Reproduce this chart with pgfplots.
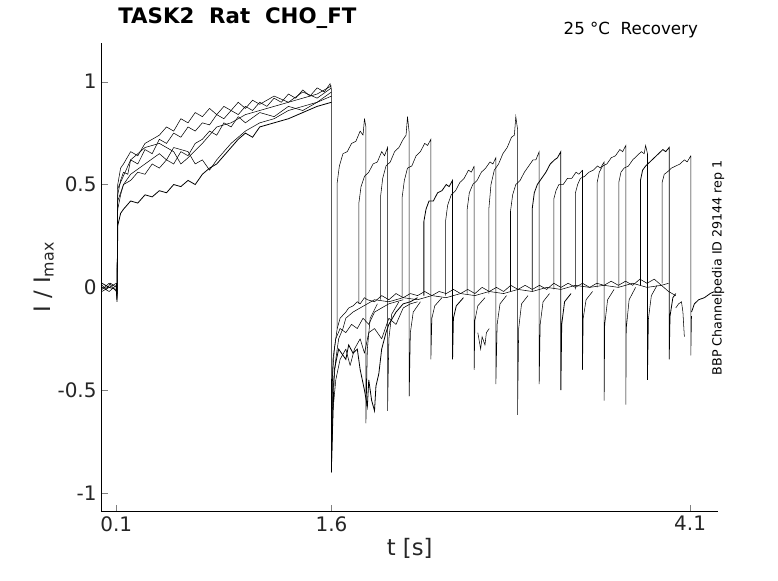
\documentclass[border=0pt]{standalone}
\usepackage{fontspec}
\setmainfont{DejaVu Sans}
\usepackage{pgfplots}
\pgfplotsset{compat=1.18}
\begin{document}
\begin{tikzpicture}
\begin{axis}[
  scale only axis, width=463pt, height=352pt,
  xmin=-0.005, xmax=4.295, ymin=-1.09, ymax=1.19,
  axis x line*=bottom, axis y line*=left,
  x axis line style={-}, y axis line style={-},
  tick align=inside, major tick length=5pt,
  xtick={0.1,1.6,4.1}, xticklabels={0.1,1.6,4.1},
  ytick={-1,-0.5,0,0.5,1}, yticklabels={-1,-0.5,0,0.5,1},
  /pgf/number format/assume math mode=true,
  tick label style={font=\fontsize{15}{18}\selectfont, text=black!85},
  xlabel={t [s]}, ylabel={I / I\textsubscript{max}},
  label style={font=\fontsize{17}{20}\selectfont, text=black!85},
  xlabel style={yshift=2pt}, ylabel style={yshift=-4pt},
  clip=false,
  cycle list={{black, solid, mark=none, line width=0.6pt, line join=round}},
]
% first pulse traces
\addplot coordinates {(0,0.01)(0.03,-0.01)(0.06,0.02)(0.1,0)(0.105,-0.06)(0.11,0.45)(0.13,0.52)(0.15,0.56)(0.18,0.55)(0.2,0.62)(0.25,0.6)(0.3,0.67)(0.35,0.65)(0.4,0.72)(0.45,0.7)(0.5,0.75)(0.55,0.73)(0.6,0.78)(0.65,0.76)(0.7,0.8)(0.75,0.79)(0.8,0.84)(0.85,0.82)(0.9,0.86)(0.95,0.84)(1.0,0.88)(1.05,0.86)(1.1,0.9)(1.15,0.88)(1.2,0.92)(1.25,0.9)(1.3,0.94)(1.35,0.92)(1.4,0.96)(1.45,0.93)(1.5,0.97)(1.55,0.95)(1.59,0.99)(1.6,0.96)};
\addplot coordinates {(0,-0.01)(0.05,0.02)(0.1,-0.02)(0.105,-0.04)(0.11,0.5)(0.13,0.58)(0.15,0.6)(0.2,0.66)(0.25,0.64)(0.3,0.7)(0.35,0.72)(0.4,0.74)(0.45,0.78)(0.5,0.76)(0.55,0.82)(0.6,0.8)(0.65,0.85)(0.7,0.83)(0.75,0.87)(0.8,0.84)(0.85,0.88)(0.9,0.86)(0.95,0.9)(1.0,0.87)(1.05,0.91)(1.1,0.89)(1.2,0.93)(1.3,0.9)(1.4,0.95)(1.5,0.92)(1.6,0.97)};
\addplot coordinates {(0,0)(0.05,-0.02)(0.1,0.01)(0.105,-0.05)(0.11,0.38)(0.13,0.45)(0.15,0.5)(0.2,0.52)(0.25,0.56)(0.3,0.55)(0.35,0.6)(0.4,0.58)(0.45,0.62)(0.5,0.6)(0.55,0.66)(0.6,0.64)(0.65,0.7)(0.7,0.72)(0.75,0.76)(0.8,0.74)(0.85,0.8)(0.9,0.78)(0.95,0.83)(1.0,0.8)(1.1,0.85)(1.2,0.83)(1.3,0.88)(1.4,0.86)(1.5,0.9)(1.6,0.93)};
\addplot coordinates {(0,0.02)(0.05,0)(0.1,-0.01)(0.105,-0.07)(0.11,0.3)(0.13,0.36)(0.15,0.38)(0.2,0.42)(0.25,0.41)(0.3,0.45)(0.35,0.44)(0.4,0.47)(0.45,0.46)(0.5,0.5)(0.55,0.49)(0.6,0.52)(0.65,0.5)(0.7,0.55)(0.75,0.58)(0.8,0.6)(0.85,0.64)(0.9,0.68)(0.95,0.72)(1.0,0.75)(1.05,0.73)(1.1,0.78)(1.2,0.8)(1.3,0.82)(1.4,0.85)(1.5,0.88)(1.6,0.9)};
\addplot coordinates {(0,-0.02)(0.1,0.02)(0.105,-0.03)(0.11,0.42)(0.15,0.5)(0.2,0.55)(0.3,0.6)(0.4,0.65)(0.45,0.62)(0.5,0.68)(0.6,0.66)(0.65,0.6)(0.7,0.62)(0.75,0.57)(0.8,0.62)(0.9,0.7)(1.0,0.76)(1.1,0.8)(1.2,0.82)(1.3,0.86)(1.4,0.88)(1.5,0.9)(1.6,0.95)};
\addplot coordinates {(0.11,0.48)(0.2,0.62)(0.3,0.68)(0.4,0.7)(0.5,0.66)(0.55,0.6)(0.6,0.63)(0.7,0.7)(0.8,0.78)(0.9,0.8)(1.0,0.84)(1.1,0.86)(1.2,0.88)(1.3,0.9)(1.4,0.92)(1.5,0.94)(1.6,0.98)};
% baselines after first pulse
\addplot coordinates {(1.6,0.96)(1.6,-0.9)(1.605,-0.45)(1.62,-0.3)(1.64,-0.2)(1.66,-0.15)(1.7,-0.12)(1.72,-0.1)(1.75,-0.09)(1.78,-0.07)(1.8,-0.08)(1.83,-0.05)(1.85,-0.06)(1.9,-0.07)(1.95,-0.04)(2.0,-0.06)(2.05,-0.03)(2.1,-0.05)(2.15,-0.03)(2.2,-0.04)(2.25,-0.02)(2.3,-0.04)(2.35,-0.02)(2.4,-0.03)(2.45,-0.01)(2.5,-0.03)(2.55,-0.01)(2.6,-0.03)(2.65,0)(2.7,-0.02)(2.75,0)(2.8,-0.02)(2.85,0.01)(2.9,-0.01)(2.95,0.01)(3.0,-0.01)(3.05,0.01)(3.1,-0.01)(3.15,0.02)(3.2,0)(3.25,0.02)(3.3,0)(3.35,0.02)(3.4,0)(3.45,0.02)(3.5,0.01)(3.55,0.03)(3.6,0.01)(3.65,0.03)(3.7,0.01)(3.75,0.04)(3.8,0.02)(3.85,0.04)(3.9,0.01)(3.95,0.02)};
\addplot coordinates {(1.6,-0.8)(1.61,-0.5)(1.63,-0.35)(1.65,-0.25)(1.68,-0.2)(1.7,-0.15)(1.75,-0.12)(1.8,-0.1)(1.85,-0.08)(1.9,-0.06)(2.0,-0.07)(2.1,-0.05)(2.2,-0.06)(2.3,-0.04)(2.4,-0.05)(2.5,-0.03)(2.6,-0.04)(2.7,-0.02)(2.8,-0.03)(2.9,-0.01)(3.0,-0.02)(3.1,0)(3.2,-0.01)(3.3,0.01)(3.4,0)(3.5,0.01)(3.6,0)(3.7,0.02)(3.8,0)(3.9,0.01)(3.95,-0.02)(4.0,-0.04)};
\addplot coordinates {(1.6,-0.85)(1.62,-0.4)(1.65,-0.3)(1.7,-0.35)(1.72,-0.28)(1.75,-0.32)(1.78,-0.3)(1.8,-0.4)(1.83,-0.5)(1.85,-0.58)(1.86,-0.45)(1.88,-0.55)(1.9,-0.6)(1.91,-0.48)(1.93,-0.42)(1.95,-0.3)(1.98,-0.22)(2.0,-0.18)(2.05,-0.12)(2.1,-0.08)(2.15,-0.07)(2.2,-0.05)};
\addplot coordinates {(1.6,-0.9)(1.61,-0.6)(1.63,-0.45)(1.66,-0.35)(1.7,-0.3)(1.73,-0.38)(1.76,-0.3)(1.8,-0.25)(1.83,-0.32)(1.86,-0.22)(1.9,-0.2)(1.95,-0.25)(2.0,-0.15)(2.05,-0.18)(2.1,-0.1)(2.15,-0.08)(2.2,-0.07)};
\addplot coordinates {(1.6,-0.7)(1.61,-0.35)(1.63,-0.25)(1.66,-0.2)(1.7,-0.22)(1.74,-0.18)(1.78,-0.2)(1.82,-0.15)(1.86,-0.18)(1.9,-0.12)(1.95,-0.1)(2.0,-0.08)(2.1,-0.06)};
\addplot coordinates {(2.62,-0.22)(2.64,-0.3)(2.65,-0.24)(2.67,-0.28)(2.68,-0.22)(2.7,-0.2)};
\addplot coordinates {(4.0,-0.1)(4.02,-0.08)(4.04,-0.07)(4.05,-0.12)(4.06,-0.24)};
\addplot coordinates {(4.11,-0.12)(4.13,-0.08)(4.16,-0.06)(4.2,-0.05)(4.24,-0.03)(4.27,-0.02)};
% test pulses
\addplot coordinates {(1.640,-0.2)(1.640,0.51)(1.655,0.59)(1.68,0.65)(1.71,0.66)(1.74,0.7)(1.77,0.71)(1.80,0.76)(1.82,0.74)(1.83,0.82)(1.840,0.78)(1.840,-0.66)(1.85,-0.3)(1.87,-0.15)(1.92,-0.08)};
\addplot coordinates {(1.791,-0.08)(1.791,0.41)(1.806,0.49)(1.83,0.54)(1.86,0.56)(1.89,0.6)(1.92,0.61)(1.95,0.66)(1.97,0.64)(1.991,0.68)(1.991,-0.6)(2.0,-0.25)(2.02,-0.13)(2.07,-0.07)};
\addplot coordinates {(1.942,-0.06)(1.942,0.44)(1.957,0.53)(1.98,0.59)(2.01,0.61)(2.04,0.66)(2.07,0.68)(2.10,0.72)(2.12,0.74)(2.13,0.83)(2.142,0.75)(2.142,-0.53)(2.15,-0.22)(2.17,-0.12)(2.22,-0.07)};
\addplot coordinates {(2.093,-0.05)(2.093,0.44)(2.108,0.52)(2.13,0.58)(2.16,0.59)(2.19,0.64)(2.22,0.66)(2.25,0.7)(2.27,0.69)(2.293,0.72)(2.293,-0.35)(2.30,-0.15)(2.32,-0.09)(2.37,-0.05)};
\addplot coordinates {(2.244,-0.04)(2.244,0.32)(2.259,0.38)(2.28,0.42)(2.31,0.42)(2.34,0.46)(2.37,0.47)(2.40,0.5)(2.42,0.49)(2.444,0.52)(2.444,-0.35)(2.45,-0.15)(2.47,-0.09)(2.52,-0.05)};
\addplot coordinates {(2.395,-0.04)(2.395,0.32)(2.41,0.4)(2.435,0.45)(2.465,0.47)(2.495,0.51)(2.525,0.53)(2.555,0.57)(2.575,0.56)(2.595,0.59)(2.595,-0.4)(2.60,-0.16)(2.62,-0.09)(2.67,-0.05)};
\addplot coordinates {(2.546,-0.03)(2.546,0.38)(2.561,0.46)(2.585,0.5)(2.615,0.52)(2.645,0.56)(2.675,0.58)(2.705,0.61)(2.725,0.6)(2.746,0.63)(2.746,-0.47)(2.755,-0.18)(2.775,-0.08)(2.82,-0.04)};
\addplot coordinates {(2.697,-0.03)(2.697,0.38)(2.712,0.5)(2.735,0.57)(2.765,0.6)(2.795,0.65)(2.825,0.68)(2.855,0.73)(2.875,0.74)(2.885,0.83)(2.897,0.77)(2.897,-0.62)(2.905,-0.2)(2.925,-0.08)(2.97,-0.04)};
\addplot coordinates {(2.848,-0.02)(2.848,0.37)(2.863,0.45)(2.885,0.5)(2.915,0.52)(2.945,0.56)(2.975,0.59)(3.005,0.62)(3.025,0.62)(3.048,0.66)(3.048,-0.47)(3.055,-0.18)(3.075,-0.07)(3.12,-0.03)};
\addplot coordinates {(2.999,-0.02)(2.999,0.38)(3.014,0.46)(3.035,0.5)(3.065,0.53)(3.095,0.56)(3.125,0.6)(3.155,0.62)(3.175,0.63)(3.199,0.66)(3.199,-0.5)(3.205,-0.18)(3.225,-0.07)(3.27,-0.03)};
\addplot coordinates {(3.150,-0.01)(3.150,0.43)(3.165,0.47)(3.185,0.5)(3.215,0.5)(3.245,0.53)(3.275,0.53)(3.305,0.56)(3.325,0.55)(3.350,0.57)(3.350,-0.4)(3.355,-0.15)(3.375,-0.06)(3.42,-0.02)};
\addplot coordinates {(3.301,-0.01)(3.301,0.46)(3.316,0.5)(3.335,0.53)(3.365,0.54)(3.395,0.56)(3.425,0.57)(3.455,0.59)(3.475,0.58)(3.501,0.61)(3.501,-0.55)(3.505,-0.18)(3.525,-0.06)(3.57,-0.01)};
\addplot coordinates {(3.452,0)(3.452,0.51)(3.467,0.56)(3.49,0.59)(3.52,0.6)(3.55,0.63)(3.58,0.64)(3.61,0.67)(3.63,0.66)(3.652,0.69)(3.652,-0.57)(3.655,-0.2)(3.675,-0.06)(3.72,0)};
\addplot coordinates {(3.603,0)(3.603,0.51)(3.618,0.56)(3.64,0.58)(3.67,0.59)(3.70,0.62)(3.73,0.64)(3.76,0.66)(3.78,0.65)(3.790,0.69)(3.803,0.65)(3.803,-0.45)(3.81,-0.15)(3.83,-0.04)(3.87,0.01)};
\addplot coordinates {(3.754,0.01)(3.754,0.52)(3.769,0.57)(3.79,0.59)(3.82,0.61)(3.85,0.63)(3.88,0.65)(3.91,0.67)(3.93,0.66)(3.954,0.68)(3.954,-0.35)(3.96,-0.14)(3.98,-0.05)(4.0,-0.03)};
\addplot coordinates {(3.905,0.02)(3.905,0.51)(3.92,0.55)(3.94,0.56)(3.97,0.58)(4.0,0.59)(4.03,0.6)(4.06,0.62)(4.08,0.61)(4.105,0.64)(4.105,-0.33)(4.11,-0.14)};
\node[anchor=south west, font=\bfseries\fontsize{16}{19}\selectfont] at (rel axis cs:0.02,1.02) {TASK2\ \ Rat\ \ CHO\_FT};
\node[anchor=south east, font=\fontsize{12.5}{14}\selectfont] at (rel axis cs:0.975,1.0) {25 °C\ \ Recovery};
\node[rotate=90, font=\fontsize{9.5}{11}\selectfont] at (rel axis cs:1.0,0.52) {BBP Channelpedia ID 29144 rep 1};
\end{axis}
\path (current axis.south west)+(-76pt,-52pt) coordinate (bl);
\path (current axis.north east)+(45pt,32pt) coordinate (tr);
\useasboundingbox (bl) rectangle (tr);
\end{tikzpicture}
\end{document}
